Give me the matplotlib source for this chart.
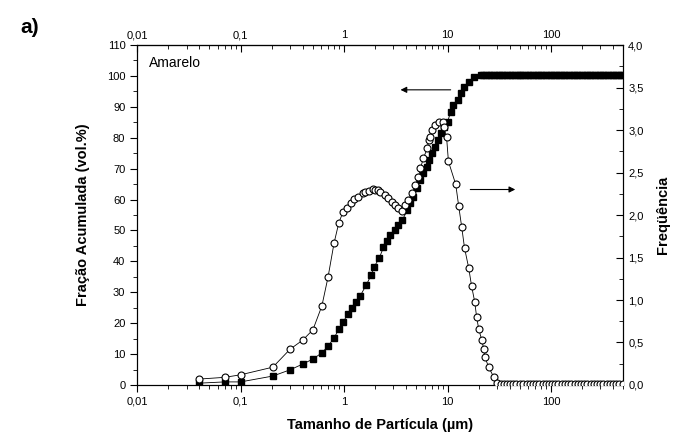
import matplotlib
matplotlib.use("Agg")
from matplotlib import pyplot as plt
from matplotlib.ticker import FuncFormatter, MultipleLocator, LogLocator, NullFormatter

plt.rcParams['font.family'] = ['Liberation Sans', 'DejaVu Sans']

# Cumulative fraction (vol.%) vs particle size (um) - black squares, left axis
size_cum = [0.04, 0.07, 0.10, 0.205, 0.30, 0.40, 0.50, 0.61, 0.70, 0.80, 0.89, 0.98,
            1.09, 1.20, 1.31, 1.43, 1.64, 1.83, 1.95, 2.19, 2.4, 2.6, 2.80, 3.13, 3.34,
            3.66, 4.09, 4.37, 4.68, 5.12, 5.47, 5.85, 6.40, 6.55, 7.15, 7.64, 8.0, 8.55,
            9.14, 10.0, 10.7, 11.4, 12.5, 13.4, 14.3, 16.0, 17.9, 20.9,
            22, 23.5, 25, 26.5, 28, 30, 31.5, 33.5, 35.5, 37.5, 40, 42, 45, 47.5, 50,
            53, 56, 60, 63, 67, 71, 75, 80, 84, 89, 95, 100, 106, 112, 119, 126, 133,
            141, 150, 159, 168, 178, 188, 200, 211, 224, 237, 251, 266, 282, 299, 316,
            335, 355, 376, 398, 422, 447, 473, 495]
cumulative = [0.6, 1.0, 1.0, 2.9, 4.9, 6.8, 8.4, 10.4, 12.6, 15.2, 18.1, 20.4,
              23.0, 24.9, 26.9, 28.8, 32.4, 35.6, 38.2, 41.1, 44.5, 46.5, 48.5, 50.2, 51.8,
              53.4, 56.6, 58.9, 60.8, 63.8, 66.3, 68.6, 70.6, 72.8, 75.1, 77.0, 79.3, 81.6,
              83.5, 85.1, 88.3, 90.6, 92.2, 94.5, 96.4, 98.1, 99.7, 100.2,
              100.4, 100.4, 100.4, 100.4, 100.4, 100.4, 100.4, 100.4, 100.4, 100.4, 100.4,
              100.4, 100.4, 100.4, 100.4, 100.4, 100.4, 100.4, 100.4, 100.4, 100.4, 100.4,
              100.4, 100.4, 100.4, 100.4, 100.4, 100.4, 100.4, 100.4, 100.4, 100.4, 100.4,
              100.4, 100.4, 100.4, 100.4, 100.4, 100.4, 100.4, 100.4, 100.4, 100.4, 100.4,
              100.4, 100.4, 100.4, 100.4, 100.4, 100.4, 100.4, 100.4, 100.4, 100.4, 100.4]

# Frequency vs particle size - open circles, right axis
size_freq = [0.04, 0.07, 0.10, 0.205, 0.30, 0.40, 0.50, 0.61, 0.70, 0.80, 0.89, 0.98,
             1.07, 1.17, 1.25, 1.37, 1.53, 1.60, 1.75, 1.91, 2.0, 2.14, 2.24, 2.50, 2.67,
             2.93, 3.13, 3.34, 3.66, 3.91, 4.18, 4.57, 4.89, 5.23, 5.47, 5.85, 6.40, 6.55,
             6.84, 7.15, 7.64, 8.18, 8.94, 9.14, 9.78, 10.2, 12.0, 12.8, 13.7, 14.6, 16.0,
             17.1, 18.3, 19.1, 20.0, 21.4, 22.4, 22.9, 25.0, 28.0,
             30, 32.5, 35, 37.5, 40, 43, 46, 50, 54, 58, 62, 67, 72, 77, 83, 89, 96, 103,
             110, 118, 127, 136, 146, 157, 169, 181, 195, 209, 225, 241, 259, 278, 299,
             321, 345, 370, 398, 427, 459, 493]
frequency = [0.07, 0.09, 0.12, 0.21, 0.42, 0.53, 0.65, 0.93, 1.27, 1.67, 1.91, 2.04,
             2.08, 2.14, 2.19, 2.21, 2.26, 2.27, 2.28, 2.31, 2.30, 2.29, 2.27, 2.24, 2.20,
             2.15, 2.12, 2.08, 2.05, 2.12, 2.18, 2.26, 2.35, 2.45, 2.55, 2.67, 2.79, 2.88,
             2.92, 3.00, 3.06, 3.09, 3.09, 3.04, 2.92, 2.63, 2.36, 2.11, 1.86, 1.61, 1.38,
             1.16, 0.98, 0.80, 0.66, 0.53, 0.42, 0.33, 0.21, 0.09,
             0.02, 0.01, 0.01, 0.01, 0.01, 0.01, 0.01, 0.01, 0.01, 0.01, 0.01, 0.01, 0.01,
             0.01, 0.01, 0.01, 0.01, 0.01, 0.01, 0.01, 0.01, 0.01, 0.01, 0.01, 0.01, 0.01,
             0.01, 0.01, 0.01, 0.01, 0.01, 0.01, 0.01, 0.01, 0.01, 0.01, 0.01, 0.01, 0.01,
             0.01]

decimal_comma = FuncFormatter(lambda v, pos: ('%g' % v).replace('.', ','))
one_decimal = FuncFormatter(lambda v, pos: ('%.1f' % v).replace('.', ','))

fig = plt.figure(figsize=(6.79, 4.37), dpi=100)
ax = fig.add_axes([0.202, 0.119, 0.716, 0.778])

ax.plot(size_cum, cumulative, color='black', lw=0.6, marker='s', ms=4.6,
        mfc='black', mec='black', zorder=3)
ax.set_xscale('log')
ax.set_xlim(0.01, 500)
ax.set_ylim(0, 110)
ax.yaxis.set_major_locator(MultipleLocator(10))
ax.yaxis.set_minor_locator(MultipleLocator(5))
ax.xaxis.set_major_locator(LogLocator(base=10, numticks=10))
ax.xaxis.set_minor_locator(LogLocator(base=10, subs=range(2, 10), numticks=20))
ax.xaxis.set_major_formatter(decimal_comma)
ax.xaxis.set_minor_formatter(NullFormatter())
ax.tick_params(axis='both', which='major', direction='out', length=5, width=0.8, labelsize=8)
ax.tick_params(axis='both', which='minor', direction='out', length=3, width=0.6)
ax.tick_params(axis='y', right=False)
ax.set_ylabel('Fração Acumulada (vol.%)', fontsize=10.5, fontweight='bold', labelpad=12)
ax.set_xlabel('Tamanho de Partícula (µm)', fontsize=10.5, fontweight='bold', labelpad=8)
ax.text(0.013, 103, 'Amarelo', fontsize=10)

# top axis with the same log scale, ticks pointing inward
top = ax.secondary_xaxis('top')
top.xaxis.set_major_locator(LogLocator(base=10, numticks=10))
top.xaxis.set_minor_locator(LogLocator(base=10, subs=range(2, 10), numticks=20))
top.xaxis.set_major_formatter(decimal_comma)
top.xaxis.set_minor_formatter(NullFormatter())
top.tick_params(which='major', direction='in', length=5, width=0.8, labelsize=8)
top.tick_params(which='minor', direction='in', length=3, width=0.6)

ax2 = ax.twinx()
ax2.plot(size_freq, frequency, color='black', lw=0.6, marker='o', ms=5,
         mfc='white', mec='black', mew=0.8, zorder=4)
ax2.set_ylim(0, 4.0)
ax2.yaxis.set_major_locator(MultipleLocator(0.5))
ax2.yaxis.set_minor_locator(MultipleLocator(0.25))
ax2.yaxis.set_major_formatter(one_decimal)
ax2.tick_params(axis='y', which='major', direction='in', length=5, width=0.8, labelsize=8)
ax2.tick_params(axis='y', which='minor', direction='in', length=3, width=0.6)
ax2.set_ylabel('Freqüência', fontsize=10.5, fontweight='bold', labelpad=9)

# arrows pointing to the corresponding axis
ax.annotate('', xy=(3.3, 95.5), xytext=(11.4, 95.5),
            arrowprops=dict(arrowstyle='-|>', color='black', lw=0.8, mutation_scale=9))
ax2.annotate('', xy=(48, 2.3), xytext=(15.6, 2.3),
             arrowprops=dict(arrowstyle='-|>', color='black', lw=0.8, mutation_scale=9))

fig.text(0.03, 0.925, 'a)', fontsize=15, fontweight='bold')

fig.savefig('out.png', dpi=100)
